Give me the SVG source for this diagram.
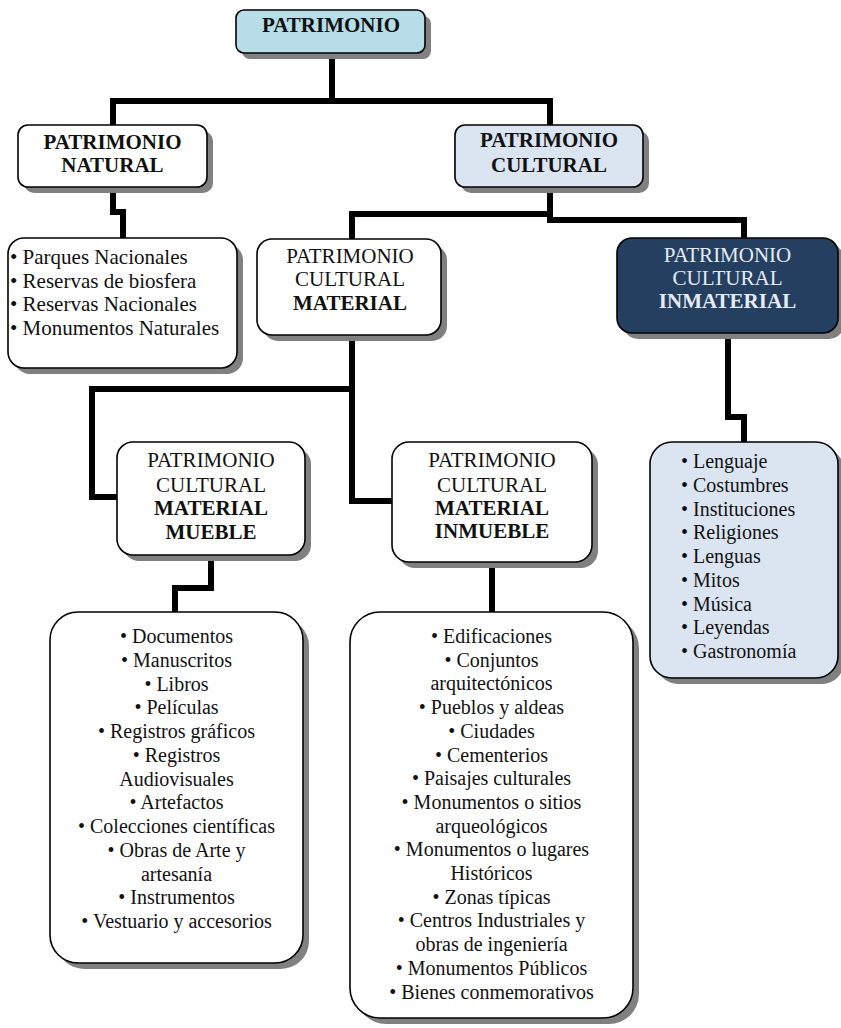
<svg xmlns="http://www.w3.org/2000/svg" width="841" height="1028" viewBox="0 0 841 1028">
<style>
.sh{fill:#808080}
.box{stroke:#000;stroke-width:1.6}
.h{font-family:"Liberation Serif",serif;font-size:21px;text-anchor:middle;fill:#111}
.b{font-weight:bold}
.li{font-family:"Liberation Serif",serif;font-size:20px;fill:#111}
.nl{font-size:21px}
.c{text-anchor:middle}
.conn{fill:none;stroke:#000;stroke-width:6;stroke-linejoin:miter;stroke-linecap:square}
</style>
<rect width="841" height="1028" fill="#fff"/>
<g id="connectors">
<path class="conn" d="M332,54 V101"/>
<path class="conn" d="M113,124 V101 H550 V124"/>
<path class="conn" d="M113,188 V212 H123 V237"/>
<path class="conn" d="M550,188 V220 H744 V237"/>
<path class="conn" d="M352,238 V214 H550"/>
<path class="conn" d="M352,336 V501 H391"/>
<path class="conn" d="M352,389 H92 V497 H116"/>
<path class="conn" d="M211,556 V588 H175 V611"/>
<path class="conn" d="M492,563 V611"/>
<path class="conn" d="M728,334 V417 H744 V441"/>
</g>
<g id="patrimonio">
<rect class="sh" x="242" y="16" width="189" height="43" rx="8"/>
<rect class="box" x="236" y="10" width="189" height="43" rx="8" fill="#b7dee8"/>
<text class="h b" x="331" y="32">PATRIMONIO</text>
</g>
<g id="natural">
<rect class="sh" x="24" y="131" width="189" height="62" rx="10"/>
<rect class="box" x="18" y="125" width="189" height="62" rx="10" fill="#fff"/>
<text class="h b" x="112.5" y="149">PATRIMONIO</text>
<text class="h b" x="112.5" y="172">NATURAL</text>
</g>
<g id="cultural">
<rect class="sh" x="461" y="131" width="188" height="62" rx="10"/>
<rect class="box" x="455" y="125" width="188" height="62" rx="10" fill="#dbe5f1"/>
<text class="h b" x="549" y="147">PATRIMONIO</text>
<text class="h b" x="549" y="172">CULTURAL</text>
</g>
<g id="natural-list">
<rect class="sh" x="14" y="244" width="229" height="130" rx="16"/>
<rect class="box" x="8" y="238" width="229" height="130" rx="16" fill="#fff"/>
<text class="li nl" x="10" y="264">• Parques Nacionales</text>
<text class="li nl" x="10" y="288">• Reservas de biosfera</text>
<text class="li nl" x="10" y="311">• Reservas Nacionales</text>
<text class="li nl" x="10" y="335">• Monumentos Naturales</text>
</g>
<g id="material">
<rect class="sh" x="263" y="245" width="184" height="96" rx="15"/>
<rect class="box" x="257" y="239" width="184" height="96" rx="15" fill="#fff"/>
<text class="h" x="350" y="263">PATRIMONIO</text>
<text class="h" x="350" y="286">CULTURAL</text>
<text class="h b" x="350" y="310">MATERIAL</text>
</g>
<g id="inmaterial">
<rect class="sh" x="623" y="244" width="221" height="95" rx="15"/>
<rect class="box" x="617" y="238" width="221" height="95" rx="15" fill="#243f60"/>
<text class="h" x="727.5" y="262" style="fill:#e6ecf5">PATRIMONIO</text>
<text class="h" x="727.5" y="285" style="fill:#e6ecf5">CULTURAL</text>
<text class="h b" x="727.5" y="308" style="fill:#e6ecf5">INMATERIAL</text>
</g>
<g id="mueble">
<rect class="sh" x="123" y="448" width="188" height="113" rx="16"/>
<rect class="box" x="117" y="442" width="188" height="113" rx="16" fill="#fff"/>
<text class="h" x="211" y="467">PATRIMONIO</text>
<text class="h" x="211" y="492">CULTURAL</text>
<text class="h b" x="211" y="515">MATERIAL</text>
<text class="h b" x="211" y="539">MUEBLE</text>
</g>
<g id="inmueble">
<rect class="sh" x="398" y="448" width="200" height="120" rx="17"/>
<rect class="box" x="392" y="442" width="200" height="120" rx="17" fill="#fff"/>
<text class="h" x="492" y="467">PATRIMONIO</text>
<text class="h" x="492" y="492">CULTURAL</text>
<text class="h b" x="492" y="515">MATERIAL</text>
<text class="h b" x="492" y="538">INMUEBLE</text>
</g>
<g id="inmaterial-list">
<rect class="sh" x="656" y="448" width="188" height="236" rx="22"/>
<rect class="box" x="650" y="442" width="188" height="236" rx="22" fill="#dbe5f1"/>
<text class="li" x="681" y="468">• Lenguaje</text>
<text class="li" x="681" y="492">• Costumbres</text>
<text class="li" x="681" y="516">• Instituciones</text>
<text class="li" x="681" y="539">• Religiones</text>
<text class="li" x="681" y="563">• Lenguas</text>
<text class="li" x="681" y="587">• Mitos</text>
<text class="li" x="681" y="611">• Música</text>
<text class="li" x="681" y="634">• Leyendas</text>
<text class="li" x="681" y="658">• Gastronomía</text>
</g>
<g id="mueble-list">
<rect class="sh" x="56" y="618" width="253" height="351" rx="28"/>
<rect class="box" x="50" y="612" width="253" height="351" rx="28" fill="#fff"/>
<g class="li c">
<text x="176.5" y="643">• Documentos</text>
<text x="176.5" y="666.75">• Manuscritos</text>
<text x="176.5" y="690.5">• Libros</text>
<text x="176.5" y="714.25">• Películas</text>
<text x="176.5" y="738">• Registros gráficos</text>
<text x="176.5" y="761.75">• Registros</text>
<text x="176.5" y="785.5">Audiovisuales</text>
<text x="176.5" y="809.25">• Artefactos</text>
<text x="176.5" y="833">• Colecciones científicas</text>
<text x="176.5" y="856.75">• Obras de Arte y</text>
<text x="176.5" y="880.5">artesanía</text>
<text x="176.5" y="904.25">• Instrumentos</text>
<text x="176.5" y="928">• Vestuario y accesorios</text>
</g>
</g>
<g id="inmueble-list">
<rect class="sh" x="356" y="618" width="283" height="406" rx="30"/>
<rect class="box" x="350" y="612" width="283" height="406" rx="30" fill="#fff"/>
<g class="li c">
<text x="491.5" y="643">• Edificaciones</text>
<text x="491.5" y="666.7">• Conjuntos</text>
<text x="491.5" y="690.4">arquitectónicos</text>
<text x="491.5" y="714.1">• Pueblos y aldeas</text>
<text x="491.5" y="737.8">• Ciudades</text>
<text x="491.5" y="761.5">• Cementerios</text>
<text x="491.5" y="785.2">• Paisajes culturales</text>
<text x="491.5" y="808.9">• Monumentos o sitios</text>
<text x="491.5" y="832.6">arqueológicos</text>
<text x="491.5" y="856.3">• Monumentos o lugares</text>
<text x="491.5" y="880">Históricos</text>
<text x="491.5" y="903.7">• Zonas típicas</text>
<text x="491.5" y="927.4">• Centros Industriales y</text>
<text x="491.5" y="951.1">obras de ingeniería</text>
<text x="491.5" y="974.8">• Monumentos Públicos</text>
<text x="491.5" y="998.5">• Bienes conmemorativos</text>
</g>
</g>
</svg>
